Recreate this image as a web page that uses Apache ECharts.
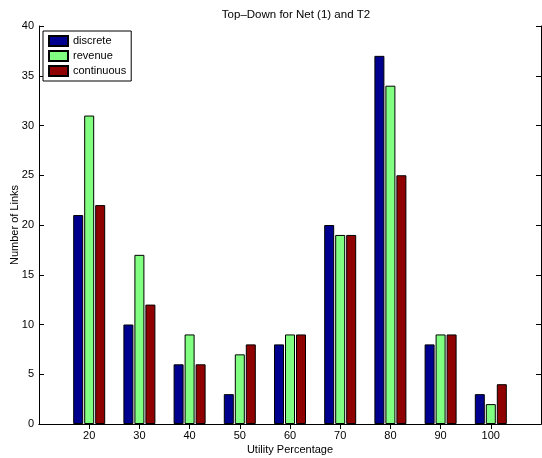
<!DOCTYPE html>
<html><head><meta charset="utf-8">
<script src="https://cdn.jsdelivr.net/npm/echarts@6/dist/echarts.min.js"></script>
<style>html,body{margin:0;padding:0;background:#fff}#c{width:542px;height:458px}</style>
</head><body><div id="c"></div>
<script>
const categories = [20, 30, 40, 50, 60, 70, 80, 90, 100];
const discrete = [21, 10, 6, 3, 8, 20, 37, 8, 3];
const revenue = [31, 17, 9, 7, 9, 19, 34, 9, 2];
const continuous = [22, 12, 6, 8, 9, 19, 25, 9, 4];
const yTicks = [0, 5, 10, 15, 20, 25, 30, 35, 40];

const font = 'Liberation Sans, Arial, Helvetica, sans-serif';
const chart = echarts.init(document.getElementById('c'), null, {renderer: 'canvas'});
function mk(name, vals, color) {
  return {
    name, type: 'bar', xAxisIndex: 0, yAxisIndex: 0,
    data: categories.map((c, i) => [c, vals[i]]),
    barWidth: 10, barGap: '10%',
    itemStyle: {color, borderColor: '#000', borderWidth: 1},
    emphasis: {disabled: true}
  };
}
const xTick = {show: true, inside: true, length: 5, customValues: categories, lineStyle: {color: '#000', width: 1}};
const yTick = {show: true, inside: true, length: 5, lineStyle: {color: '#000', width: 1}};
chart.setOption({
  animation: false,
  textStyle: {fontFamily: font},
  title: {
    text: 'Top\u2013Down for Net (1) and T2', left: 291, top: 4, textAlign: 'center',
    textStyle: {fontSize: 11.5, fontWeight: 'normal', color: '#000', fontFamily: font}
  },
  legend: {
    orient: 'vertical', left: 43, top: 31,
    itemWidth: 19, itemHeight: 10, itemGap: 3, icon: 'rect',
    padding: [4, 5, 4, 5],
    borderColor: '#000', borderWidth: 1, backgroundColor: '#fff',
    textStyle: {fontSize: 11, color: '#000', fontFamily: font},
    data: ['discrete', 'revenue', 'continuous'],
    selectedMode: false
  },
  grid: {left: 39, right: 1, top: 26, bottom: 34, containLabel: false, outerBoundsMode: 'none'},
  xAxis: [{
    type: 'value', min: 10, max: 110, interval: 10, position: 'bottom',
    name: 'Utility Percentage', nameLocation: 'middle', nameGap: 20, nameMoveOverlap: false,
    nameTextStyle: {fontSize: 11, color: '#000', fontFamily: font},
    axisLine: {show: true, lineStyle: {color: '#000', width: 1}},
    axisTick: xTick,
    axisLabel: {fontSize: 11, color: '#000', margin: 6, fontFamily: font, customValues: categories,
      formatter: v => categories.indexOf(v) >= 0 ? String(v) : ''},
    splitLine: {show: false}
  }, {
    type: 'value', min: 10, max: 110, interval: 10, position: 'top',
    axisLine: {show: true, lineStyle: {color: '#000', width: 1}},
    axisTick: xTick, axisLabel: {show: false}, splitLine: {show: false}
  }],
  yAxis: [{
    type: 'value', min: 0, max: 40, interval: 5, position: 'left',
    name: 'Number of Links', nameLocation: 'middle', nameGap: 19, nameRotate: 90, nameMoveOverlap: false,
    nameTextStyle: {fontSize: 11, color: '#000', fontFamily: font},
    axisLine: {show: true, lineStyle: {color: '#000', width: 1}},
    axisTick: yTick,
    axisLabel: {fontSize: 11, color: '#000', margin: 5, fontFamily: font,
      formatter: v => yTicks.indexOf(v) >= 0 ? String(v) : ''},
    splitLine: {show: false}
  }, {
    type: 'value', min: 0, max: 40, interval: 5, position: 'right',
    axisLine: {show: true, lineStyle: {color: '#000', width: 1}},
    axisTick: yTick, axisLabel: {show: false}, splitLine: {show: false}
  }],
  series: [
    mk('discrete', discrete, '#00008f'),
    mk('revenue', revenue, '#80ff80'),
    mk('continuous', continuous, '#8f0000')
  ]
});
</script></body></html>
